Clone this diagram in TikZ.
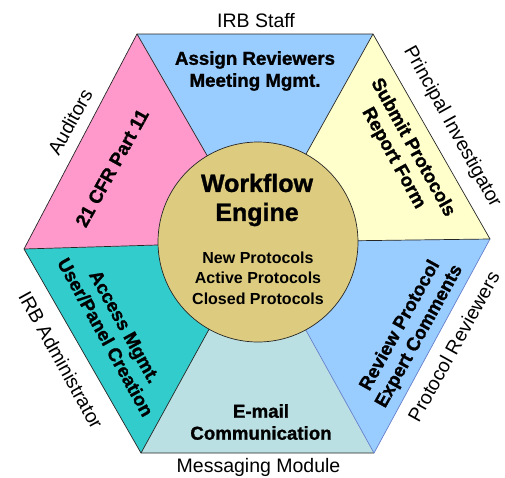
\documentclass[tikz,border=0pt]{standalone}
\usepackage{fontspec}
\setmainfont{Liberation Sans}
\newfontfamily\heavyfont{Liberation Sans}[BoldFeatures={FakeBold=1.2}]
\definecolor{cpink}{HTML}{FF99CC}
\definecolor{cblue}{HTML}{99CCFF}
\definecolor{cyel}{HTML}{FFFFCC}
\definecolor{cteal}{HTML}{33CCCC}
\definecolor{clteal}{HTML}{BBE0E3}
\definecolor{ctan}{HTML}{DDCC80}
\definecolor{cedge}{HTML}{6680CC}
\tikzset{
  outerlbl/.style={font=\fontsize{19.5}{23}\selectfont, inner sep=0pt},
  sectlbl/.style={font=\fontsize{18.7}{22}\selectfont\heavyfont\bfseries, align=center, inner sep=0pt},
  edge/.style={draw=black!85, line width=0.7pt, line join=miter},
  edgeb/.style={draw=cedge, line width=0.7pt},
}
\begin{document}
\begin{tikzpicture}[x=1pt,y=-1pt]
\useasboundingbox (0,0) rectangle (505,477);
\coordinate (TL) at (137,34);
\coordinate (TR) at (373,34);
\coordinate (R) at (490,239);
\coordinate (BR) at (374,453);
\coordinate (BL) at (141,453);
\coordinate (L) at (24,249);
\coordinate (C) at (257,242);
% sectors
\fill[cblue] (TL)--(TR)--(C)--cycle;
\fill[cyel] (TR)--(R)--(C)--cycle;
\fill[cblue] (R)--(BR)--(C)--cycle;
\fill[clteal] (BR)--(BL)--(C)--cycle;
\fill[cteal] (BL)--(L)--(C)--cycle;
\fill[cpink] (L)--(TL)--(C)--cycle;
\draw[edge] (BR)--(BL)--(L)--(TL)--(TR)--(R);
\draw[edgeb] (R)--(BR);
\draw[edge] (TL)--(C) (TR)--(C) (R)--(C) (BL)--(C) (L)--(C);
\draw[edgeb] (BR)--(C);
% engine
\node[circle, fill=ctan, draw=black!85, line width=0.7pt, minimum size=200pt, inner sep=0pt] (eng) at (258,242) {};
\node[font=\fontsize{25}{29}\selectfont\heavyfont\bfseries, align=center, inner sep=0pt] (wf) at (257,200) {Workflow\\Engine};
\node[font=\fontsize{16}{20.5}\selectfont\bfseries, align=center, inner sep=0pt] (lst) at (258,278) {New Protocols\\Active Protocols\\Closed Protocols};
% sector texts
\node[sectlbl] (s1) at (255,71) {Assign Reviewers\\Meeting Mgmt.};
\node[sectlbl, rotate=-61] (s2) at (403,153) {Submit Protocols\\Report Form};
\node[sectlbl, rotate=61] (s3) at (410,331) {Review Protocol\\Expert Comments};
\node[sectlbl] (s4) at (261,422) {E-mail\\Communication};
\node[sectlbl, rotate=-61] (s5) at (115,332) {Access Mgmt.\\User/Panel Creation};
\node[sectlbl, rotate=61] (s6) at (112,168) {21 CFR Part 11};
% outer labels
\node[outerlbl, anchor=base] (o1) at (256,27) {IRB Staff};
\node[outerlbl, rotate=-61] (o2) at (452,127) {Principal Investigator};
\node[outerlbl, rotate=61] (o3) at (453.5,346.5) {Protocol Reviewers};
\node[outerlbl, anchor=base] (o4) at (258.5,472) {Messaging Module};
\node[outerlbl, rotate=-61] (o5) at (61,360) {IRB Administrator};
\node[outerlbl, rotate=61] (o6) at (70,122) {Auditors};
\end{tikzpicture}
\end{document}
